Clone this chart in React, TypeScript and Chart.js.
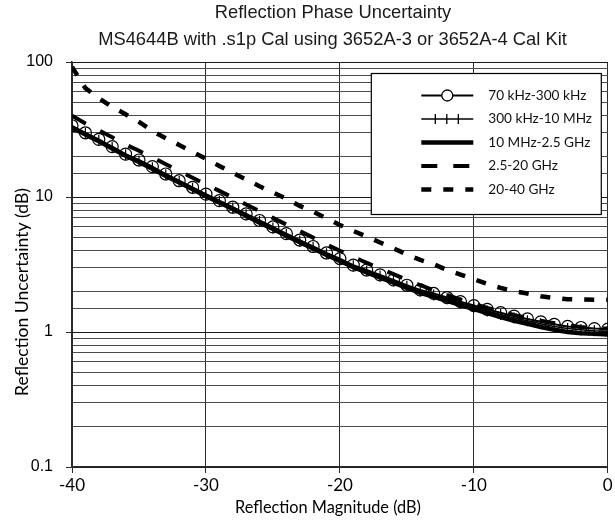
import React, { useEffect, useRef } from 'react';
import { Chart, registerables } from 'chart.js';

Chart.register(...registerables);

// ---------- data ----------
const TITLE = 'Reflection Phase Uncertainty';
const SUBTITLE = 'MS4644B with .s1p Cal using 3652A-3 or 3652A-4 Cal Kit';
const X_TITLE = 'Reflection Magnitude (dB)';
const Y_TITLE = 'Reflection Uncertainty (dB)';

const seriesLabels = ['70 kHz-300 kHz', '300 kHz-10 MHz', '10 MHz-2.5 GHz', '2.5-20 GHz', '20-40 GHz'];

const xTickValues = [-40, -30, -20, -10, 0];
const yTickLabels = [0.1, 1, 10, 100];

const magnitudes = [
  -40, -39, -38, -37, -36, -35, -34, -33, -32, -31, -30, -29, -28, -27, -26, -25, -24, -23, -22, -21, -20,
  -19, -18, -17, -16, -15, -14, -13, -12, -11, -10, -9, -8, -7, -6, -5, -4, -3, -2, -1, 0,
];

const band70k300k = [
  33.7, 29.9, 26.7, 23.6, 20.8, 18.8, 16.8, 14.8, 13.2, 11.8, 10.5, 9.4, 8.4, 7.5, 6.7, 6.0, 5.35, 4.8, 4.3, 3.85, 3.5,
  3.13, 2.88, 2.65, 2.43, 2.22, 2.05, 1.93, 1.8, 1.68, 1.57, 1.47, 1.39, 1.31, 1.25, 1.19, 1.14, 1.1, 1.08, 1.06, 1.05,
];

const band300k10M = [
  33.2, 29.5, 26.3, 23.3, 20.6, 18.5, 16.5, 14.6, 13.0, 11.6, 10.35, 9.25, 8.3, 7.4, 6.6, 5.9, 5.28, 4.72, 4.24, 3.8, 3.44,
  3.09, 2.83, 2.6, 2.39, 2.18, 2.01, 1.88, 1.76, 1.64, 1.53, 1.43, 1.35, 1.27, 1.21, 1.15, 1.1, 1.06, 1.04, 1.02, 1.01,
];

const band10M2G5 = [
  32.6, 29.0, 25.9, 22.9, 20.2, 18.2, 16.2, 14.3, 12.8, 11.4, 10.15, 9.1, 8.15, 7.25, 6.45, 5.8, 5.17, 4.63, 4.15, 3.72, 3.36,
  3.02, 2.76, 2.53, 2.32, 2.12, 1.95, 1.82, 1.7, 1.58, 1.48, 1.38, 1.29, 1.21, 1.15, 1.09, 1.04, 1.0, 0.98, 0.97, 0.96,
];

const band2G520G = [
  40.0, 35.0, 31.2, 27.7, 24.5, 22.0, 19.7, 17.5, 15.6, 13.9, 12.4, 11.1, 9.9, 8.8, 7.85, 7.0, 6.25, 5.6, 5.0, 4.45, 4.0,
  3.6, 3.25, 2.95, 2.68, 2.43, 2.22, 2.04, 1.88, 1.74, 1.62, 1.51, 1.42, 1.34, 1.27, 1.21, 1.16, 1.12, 1.09, 1.07, 1.06,
];

const band20G40G = [
  92, 64, 54, 46.5, 41, 36, 30.8, 27.2, 24.3, 21.6, 19.2, 17.0, 15.1, 13.5, 12.0, 10.8, 9.7, 8.6, 7.8, 6.95, 6.2,
  5.6, 5.1, 4.6, 4.17, 3.75, 3.42, 3.18, 2.88, 2.66, 2.46, 2.27, 2.12, 2.01, 1.93, 1.84, 1.79, 1.75, 1.74, 1.73, 1.73,
];

const seriesValues = [band70k300k, band300k10M, band10M2G5, band2G520G, band20G40G];

// ---------- helpers ----------
const isPow10 = (v: number) => {
  const l = Math.log10(v);
  return Math.abs(l - Math.round(l)) < 1e-6;
};

function fitFont(ctx: CanvasRenderingContext2D, text: string, family: string, target: number, weight = '') {
  ctx.font = `${weight} 20px ${family}`;
  const w = ctx.measureText(text).width;
  const size = (20 * target) / w;
  return `${weight} ${size.toFixed(2)}px ${family}`;
}

const ARIAL = '"Liberation Sans", Arial, sans-serif';
const CAL = 'Lato, "Open Sans", sans-serif';

const titlesPlugin = {
  id: 'titlesPlugin',
  afterDraw(chart: any) {
    const { ctx, chartArea: a } = chart;
    ctx.save();
    ctx.fillStyle = '#1a1a1a';
    ctx.textAlign = 'center';
    ctx.textBaseline = 'middle';
    ctx.font = fitFont(ctx, SUBTITLE, ARIAL, 469);
    const subFont = ctx.font;
    ctx.font = subFont;
    ctx.fillText(TITLE, a.left + 261, 13);
    ctx.fillText(SUBTITLE, a.left + 260.5, 40);

    ctx.fillStyle = '#000';
    ctx.font = fitFont(ctx, X_TITLE, CAL, 186);
    ctx.fillText(X_TITLE, a.left + 256, a.bottom + 41);

    ctx.font = fitFont(ctx, Y_TITLE, CAL, 208);
    ctx.translate(22, a.top + 230);
    ctx.rotate(-Math.PI / 2);
    ctx.fillText(Y_TITLE, 0, 0);
    ctx.restore();
  },
};

const legendPlugin = {
  id: 'boxLegend',
  afterDatasetsDraw(chart: any) {
    const { ctx, chartArea: a } = chart;
    const bx = a.right - 236.5;
    const by = a.top + 11.5;
    const bw = 230;
    const bh = 141;
    ctx.save();
    ctx.fillStyle = '#fff';
    ctx.fillRect(bx, by, bw, bh);
    ctx.strokeStyle = '#000';
    ctx.lineWidth = 1.2;
    ctx.strokeRect(bx, by, bw, bh);
    const x0 = bx + 50;
    const x1 = bx + 102;
    const tx = bx + 117;
    ctx.font = fitFont(ctx, seriesLabels[0], CAL, 98);
    const legendFont = ctx.font;
    chart.data.datasets.forEach((ds: any, i: number) => {
      const y = by + 22 + i * 23.5;
      ctx.save();
      ctx.strokeStyle = '#000';
      ctx.lineWidth = ds.borderWidth;
      ctx.setLineDash(ds.borderDash || []);
      ctx.lineCap = 'butt';
      ctx.beginPath();
      ctx.moveTo(x0, y);
      ctx.lineTo(x1, y);
      ctx.stroke();
      ctx.setLineDash([]);
      if (i === 0) {
        ctx.beginPath();
        ctx.arc((x0 + x1) / 2, y, 5.5, 0, Math.PI * 2);
        ctx.fillStyle = '#fff';
        ctx.fill();
        ctx.lineWidth = 1.3;
        ctx.stroke();
      }
      if (i === 1) {
        ctx.lineWidth = 1.3;
        [14, 25.5, 37].forEach((dx) => {
          ctx.beginPath();
          ctx.moveTo(x0 + dx, y - 5);
          ctx.lineTo(x0 + dx, y + 5);
          ctx.stroke();
        });
      }
      ctx.fillStyle = '#111';
      ctx.font = legendFont;
      ctx.textAlign = 'left';
      ctx.textBaseline = 'middle';
      ctx.fillText(ds.label, tx, y);
      ctx.restore();
    });
    ctx.restore();
  },
};

export default function App() {
  const canvasRef = useRef<HTMLCanvasElement | null>(null);

  useEffect(() => {
    const canvas = canvasRef.current;
    if (!canvas) return;

    const mk = (vals: number[]) => magnitudes.map((x, i) => ({ x, y: vals[i] }));

    const datasets: any[] = [
      {
        label: seriesLabels[0],
        data: mk(seriesValues[0]),
        borderColor: '#000',
        borderWidth: 2,
        pointStyle: 'circle',
        pointRadius: 6,
        pointBorderWidth: 1.2,
        pointBorderColor: '#000',
        pointBackgroundColor: 'rgba(0,0,0,0)',
      },
      {
        label: seriesLabels[1],
        data: mk(seriesValues[1]),
        borderColor: '#000',
        borderWidth: 1.5,
        pointStyle: 'line',
        pointRotation: 90,
        pointRadius: 5.5,
        pointBorderWidth: 1.2,
        pointBorderColor: '#000',
      },
      {
        label: seriesLabels[2],
        data: mk(seriesValues[2]),
        borderColor: '#000',
        borderWidth: 4.5,
        pointRadius: 0,
      },
      {
        label: seriesLabels[3],
        data: mk(seriesValues[3]),
        borderColor: '#000',
        borderWidth: 4,
        borderDash: [16, 16],
        pointRadius: 0,
      },
      {
        label: seriesLabels[4],
        data: mk(seriesValues[4]),
        borderColor: '#000',
        borderWidth: 4.5,
        borderDash: [10, 12],
        pointRadius: 0,
      },
    ];

    const chart = new Chart(canvas, {
      type: 'line',
      data: { datasets },
      options: {
        responsive: false,
        animation: false,
        devicePixelRatio: 1,
        layout: { padding: { top: 62, right: 6, left: 0, bottom: 0 } },
        plugins: {
          legend: { display: false },
          title: { display: false },
          tooltip: { enabled: false },
        },
        elements: { line: { tension: 0 } },
        scales: {
          x: {
            type: 'linear',
            min: -40,
            max: 0,
            afterFit: (s: any) => {
              s.height = 59;
            },
            afterBuildTicks: (s: any) => {
              s.ticks = xTickValues.map((v) => ({ value: v }));
            },
            ticks: {
              color: '#000',
              font: { family: 'Lato', size: 17 },
              padding: 2,
              callback: (v: any) => String(v),
            },
            grid: { color: '#2a2a2a', lineWidth: 1, tickLength: 6, tickColor: '#2a2a2a' },
            border: { color: '#2a2a2a', width: 1.5 },
          },
          y: {
            type: 'logarithmic',
            min: 0.1,
            max: 100,
            afterFit: (s: any) => {
              s.width = 72;
            },
            ticks: {
              autoSkip: false,
              color: '#000',
              font: { family: 'Liberation Sans', size: 16 },
              padding: 13,
              callback: (v: any) => {
                const n = Number(v);
                return yTickLabels.some((t) => Math.abs(t - n) < 1e-9) ? String(n) : '';
              },
            },
            grid: {
              color: (c: any) => (c.tick && isPow10(c.tick.value) ? '#1a1a1a' : '#4a4a4a'),
              lineWidth: 1,
              tickLength: 6,
              tickColor: (c: any) => (c.tick && isPow10(c.tick.value) ? '#2a2a2a' : 'rgba(0,0,0,0)'),
            },
            border: { color: '#2a2a2a', width: 1.5 },
          },
        },
      },
      plugins: [legendPlugin, titlesPlugin],
    });

    return () => chart.destroy();
  }, []);

  return (
    <div style={{ position: 'absolute', left: 0, top: 0, width: 615, height: 526, background: '#fff' }}>
      <canvas ref={canvasRef} width={615} height={526} style={{ display: 'block' }} />
    </div>
  );
}
